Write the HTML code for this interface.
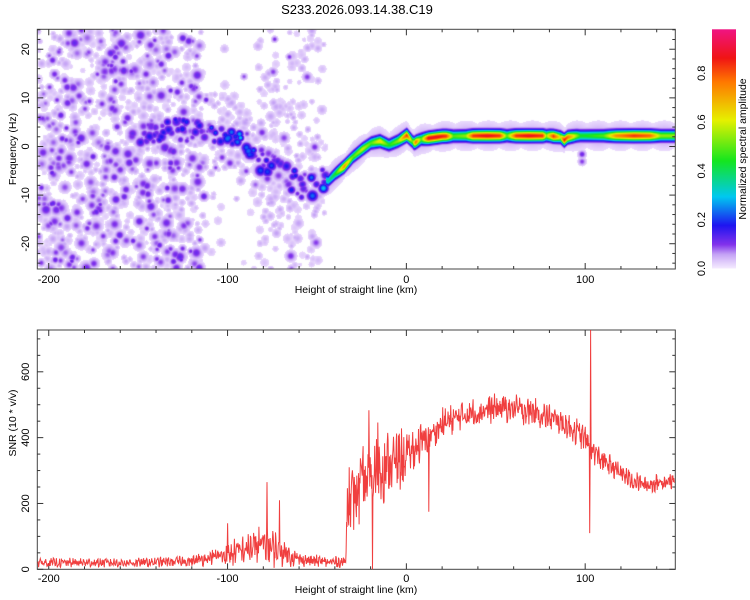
<!DOCTYPE html>
<html><head><meta charset="utf-8">
<style>
html,body{margin:0;padding:0;background:#fff;}
#wrap{position:relative;width:750px;height:600px;overflow:hidden;font-family:"Liberation Sans",sans-serif;}
canvas{position:absolute;}
svg{position:absolute;left:0;top:0;}
text{font-family:"Liberation Sans",sans-serif;fill:#000;}
</style></head>
<body>
<div id="wrap">
<canvas id="spec" width="638" height="240" style="left:37px;top:29px"></canvas>
<svg id="svg" width="750" height="600"></svg>
</div>
<script>
// ---- data ----
const xTicks = [-200,-100,0,100];
const freqTicks = [-20,-10,0,10,20];
const snrTicks = [0,200,400,600];
const cbTicks = ["0.0","0.2","0.4","0.6","0.8"];
// spectrogram ridge
const ridgeKm = [-150,-130,-120,-110,-100,-95,-90,-85,-80,-75,-70,-65,-60,-55,-50,-47,-44,-40,-35,-30,-25,-20,-15,-10,-5,0,4,8,12,20,40,60,80,86,88,90,95,100,120,150];
const ridgeHz = [3,3.5,4,3.5,2.5,1.5,0,-2,-3,-4,-5.5,-6.5,-8,-8.5,-7,-6.5,-7,-5.5,-4,-2,-0.5,0.8,1.2,0.4,1.2,2.4,0.8,1.6,1.8,2.2,2.3,2.3,2.3,2.0,1.4,2.0,2.3,2.3,2.3,2.3];
const ampKm = [-150,-120,-100,-95,-85,-70,-55,-48,-44,-40,-35,-30,-25,-20,-15,-10,-5,0,3,5,8,12,17,22,26,33,37,45,52,56,61,68,76,78,82,86,88,93,97,100,110,117,127,136,142,150];
const ampVal = [0.15,0.18,0.22,0.3,0.22,0.18,0.2,0.28,0.35,0.45,0.75,0.5,0.6,0.5,0.65,0.45,0.55,0.85,0.5,0.8,0.5,0.9,0.9,0.85,0.5,0.55,0.85,0.9,0.85,0.5,0.85,0.9,0.85,0.55,0.85,0.6,0.88,0.65,0.45,0.45,0.5,0.75,0.85,0.8,0.55,0.55];
// background noise density
const noiseKm = [-206,-118,-112,-84,-80,-52,-46,150];
const noiseDensity = [1.0,1.0,0.08,0.08,0.6,0.6,0.0,0.0];
// SNR envelope
const snrKm = [-206,-150,-120,-110,-100,-90,-80,-70,-60,-45,-34,-33,-28,-20,-12,-5,0,5,12,20,30,45,55,70,85,95,100,104,110,118,126,135,142,150];
const snrMean = [20,20,25,35,45,60,75,55,30,22,22,200,230,290,310,330,340,370,400,440,465,485,490,480,450,420,395,360,330,300,270,255,265,270];
const snrNoise = [12,12,14,20,30,40,55,40,18,14,14,80,90,100,90,80,70,55,45,40,38,38,38,36,34,34,34,30,30,25,24,22,22,22];
const spikeKm = [-100,-78,-71,-32,-21,-19,-16,12.5,102.5,103];
const spikeVal = [140,265,210,310,483,0,446,175,110,727];

// ---- geometry ----
const X0=37.3,X1=675.3, KM0=-206.4, KM1=150.4;
const sx = k => X0 + (k-KM0)/(KM1-KM0)*(X1-X0);
const TY0=29.3, TY1=269, HZ0=-25.2, HZ1=24.1;
const sfy = f => TY1 - (f-HZ0)/(HZ1-HZ0)*(TY1-TY0);
const BY0=330, BY1=569.3, S0=0, S1=727;
const ssy = v => BY1 - (v-S0)/(S1-S0)*(BY1-BY0);
function interp(xs,ys,x){ if(x<=xs[0])return ys[0]; for(let i=1;i<xs.length;i++){ if(x<=xs[i]){const t=(x-xs[i-1])/(xs[i]-xs[i-1]);return ys[i-1]+t*(ys[i]-ys[i-1]);}} return ys[ys.length-1]; }
let seed=12345; function rnd(){ seed=(seed*1103515245+12345)%2147483648; return seed/2147483648; }

// ---- spectrogram ----
const cv=document.getElementById('spec'), ctx=cv.getContext('2d');
const W=cv.width,H=cv.height, F=new Float32Array(W*H);
function blob(cx,cy,a,s){ const r=Math.ceil(s*2.5); for(let y=Math.max(0,Math.floor(cy-r));y<=Math.min(H-1,cy+r);y++)for(let x=Math.max(0,Math.floor(cx-r));x<=Math.min(W-1,cx+r);x++){const d=((x-cx)**2+(y-cy)**2)/(2*s*s); const v=a*Math.exp(-d); const j=y*W+x; if(v>F[j])F[j]=v;} }
const offX=37, offY=29;
for(let i=0;i<7000;i++){
  const k=KM0+rnd()*(KM1-KM0), d=interp(noiseKm,noiseDensity,k);
  let f=HZ0+rnd()*(HZ1-HZ0);
  if(rnd()>d){ if(k>-118 && k<-45 && rnd()<0.35){ f=interp(ridgeKm,ridgeHz,k)+(rnd()-0.5)*16; } else continue; }
  let a=0.025+rnd()*0.035, s=1.8+rnd()*1.6;
  if(k<-110 && rnd()<0.25){ a=0.08+rnd()*0.05; s=2+rnd()*2; }
  else if(k<-45 && rnd()<0.08) a=0.08+rnd()*0.03;
  blob(sx(k)-offX, sfy(f)-offY, a, s);
}
// ridge
for(let x=0;x<W;x++){
  const k=KM0+(x+offX-X0)/(X1-X0)*(KM1-KM0);
  if(k<-150) continue;
  const f=interp(ridgeKm,ridgeHz,k), a=interp(ampKm,ampVal,k);
  const cy=sfy(f)-offY;
  if(k<-45){
    if(rnd()<0.55) blob(x,cy+(rnd()-0.5)*22,a*(0.45+rnd()*0.7),2+rnd()*1.8);
  } else {
    const hal=0.05*(0.7+0.5*Math.abs(Math.sin(x/7)));
    for(let y=0;y<H;y++){
      const dy=y-cy;
      const v=Math.max(a*Math.exp(-dy*dy/(2*3.6*3.6)), hal*Math.exp(-dy*dy/(2*9*9)));
      const j=y*W+x; if(v>F[j])F[j]=v;
    }
  }
}
blob(sx(98)-offX,sfy(-1.5)-offY,0.12,2.5);
blob(sx(98)-offX,sfy(-3)-offY,0.1,2.5);
const stops=[[0,[245,235,255]],[0.03,[222,200,250]],[0.06,[195,160,245]],[0.1,[130,50,235]],[0.18,[30,20,240]],[0.3,[0,200,240]],[0.45,[20,230,30]],[0.62,[230,240,0]],[0.78,[255,120,0]],[0.88,[240,20,20]],[1,[240,20,130]]];
function cmap(v){ for(let i=1;i<stops.length;i++){ if(v<=stops[i][0]){const t=(v-stops[i-1][0])/(stops[i][0]-stops[i-1][0]);return stops[i-1][1].map((c,j)=>c+t*(stops[i][1][j]-c));}} return stops[stops.length-1][1]; }
const img=ctx.createImageData(W,H);
for(let i=0;i<W*H;i++){ const v=Math.min(1,F[i]); let c=[255,255,255]; if(v>0.014) c=cmap(v); img.data[i*4]=c[0];img.data[i*4+1]=c[1];img.data[i*4+2]=c[2];img.data[i*4+3]=255; }
ctx.putImageData(img,0,0);

// ---- svg ----
const NS="http://www.w3.org/2000/svg", svg=document.getElementById('svg');
function el(tag,attrs,parent){ const e=document.createElementNS(NS,tag); for(const k in attrs)e.setAttribute(k,attrs[k]); (parent||svg).appendChild(e); return e; }
function txt(s,x,y,attrs,name){ const t=el('text',Object.assign({x:x,y:y,'font-size':11,'text-anchor':'middle'},attrs)); t.textContent=s;
 
 
 return t; }

txt("S233.2026.093.14.38.C19",357,14,{'font-size':13},'chart-title');

function frame(y0,y1,name){
  const g=el('g',{});
  
  
  el('rect',{x:X0,y:y0,width:X1-X0,height:y1-y0,fill:'none',stroke:'#444','stroke-width':1},g);
  for(let k=-200;k<=140;k+=20){ const x=sx(k), L=(k%100===0)?6:3;
    el('line',{x1:x,x2:x,y1:y1,y2:y1-L,stroke:'#333'},g); el('line',{x1:x,x2:x,y1:y0,y2:y0+L,stroke:'#333'},g); }
  return g;
}
const gt=frame(TY0,TY1,'spectrogram-frame');
for(let f=-24;f<=24;f+=2){ const y=sfy(f), L=(f%10===0)?6:3;
  el('line',{x1:X0,x2:X0+L,y1:y,y2:y,stroke:'#333'},gt); el('line',{x1:X1,x2:X1-L,y1:y,y2:y,stroke:'#333'},gt); }
xTicks.forEach(k=>txt(String(k),sx(k),283,{},'top-x-tick-label'));
freqTicks.forEach(f=>{ const y=sfy(f); txt(String(f),0,0,{transform:`translate(29,${y}) rotate(-90)`},'freq-tick-label'); });
txt("Height of straight line (km)",356,293,{'font-size':10.5},'top-x-axis-title');
txt("Frequency (Hz)",0,0,{'font-size':10.5,transform:'translate(16,149) rotate(-90)'},'freq-axis-title');

const defs=el('defs',{});
const lg=el('linearGradient',{id:'cbg',x1:0,y1:1,x2:0,y2:0},defs);
stops.forEach(s=>{ const c=s[1]; el('stop',{offset:s[0],'stop-color':`rgb(${c.map(Math.round).join(',')})`},lg); });
const cbY0=29.3, cbY1=268.5;
const cbr=el('rect',{x:712,y:cbY0,width:24,height:cbY1-cbY0,fill:'url(#cbg)'});


cbTicks.forEach((s,i)=>{ const v=i*0.2; const y=cbY1-v/0.98*(cbY1-cbY0); txt(s,0,0,{transform:`translate(705,${y}) rotate(-90)`},'colorbar-tick-label'); });
txt("Normalized spectral amplitude",0,0,{'font-size':10.5,transform:'translate(746,149) rotate(-90)'},'colorbar-title');

const gb=frame(BY0,BY1,'snr-frame');
for(let v=0;v<=700;v+=50){ const y=ssy(v), L=(v%200===0)?6:3;
  el('line',{x1:X0,x2:X0+L,y1:y,y2:y,stroke:'#333'},gb); el('line',{x1:X1,x2:X1-L,y1:y,y2:y,stroke:'#333'},gb); }
xTicks.forEach(k=>txt(String(k),sx(k),582,{},'bottom-x-tick-label'));
snrTicks.forEach(v=>{ const y=ssy(v); txt(String(v),0,0,{transform:`translate(29,${y}) rotate(-90)`},'snr-tick-label'); });
txt("Height of straight line (km)",356,593,{'font-size':10.5},'bottom-x-axis-title');
txt("SNR (10 * v/v)",0,0,{'font-size':10.5,transform:'translate(16,423) rotate(-90)'},'snr-axis-title');

let pts=[]; const step=0.25;
for(let k=KM0+0.2;k<=KM1-0.2;k+=step){
  const n=interp(snrKm,snrNoise,k);
  let v=interp(snrKm,snrMean,k)+ (rnd()-0.5)*2*n*0.9 + Math.sin(k*4.1)*n*0.4;
  for(let i=0;i<spikeKm.length;i++){ if(Math.abs(k-spikeKm[i])<step/2) v=spikeVal[i]; }
  v=Math.max(0,Math.min(S1,v));
  pts.push(sx(k).toFixed(1)+','+ssy(v).toFixed(1));
}
const line=el('polyline',{points:pts.join(' '),fill:'none',stroke:'#ee2a2a','stroke-width':1,'stroke-opacity':0.9});


</script>
</body></html>
